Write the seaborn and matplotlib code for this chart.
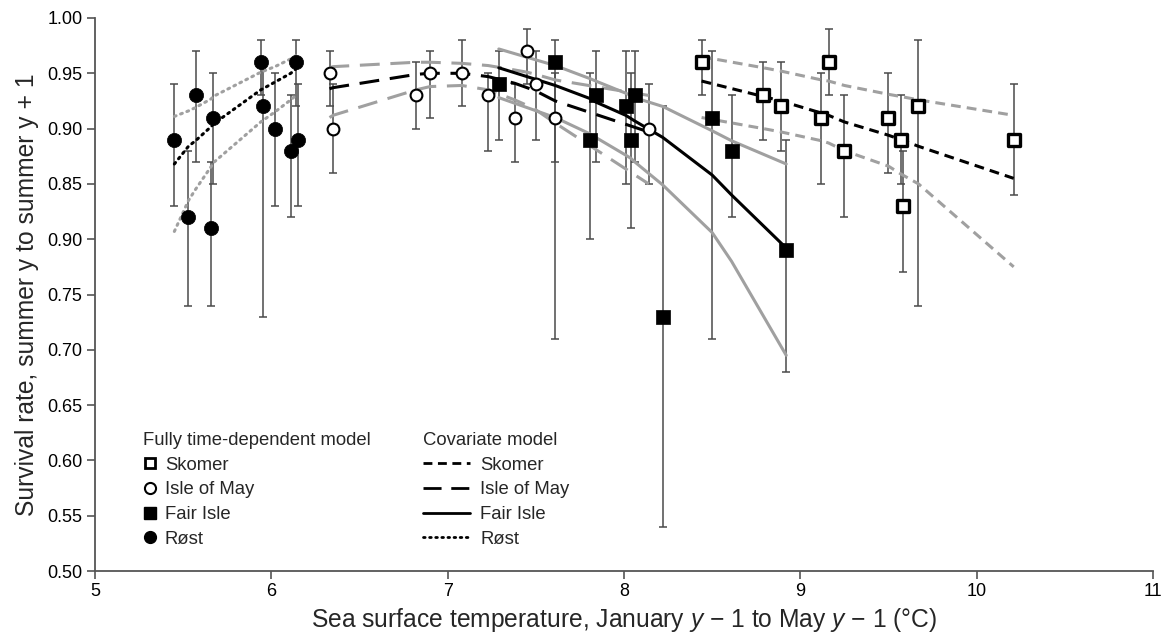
import numpy as np
import pandas as pd
import matplotlib
matplotlib.use("Agg")
import matplotlib.pyplot as plt
from matplotlib.lines import Line2D
import seaborn as sns

# ---------------- data ----------------
# Skomer (open squares)
sk_x  = [8.44, 8.79, 8.89, 9.12, 9.16, 9.25, 9.50, 9.57, 9.58, 9.67, 10.21]
sk_y  = [0.96, 0.93, 0.92, 0.91, 0.96, 0.88, 0.91, 0.89, 0.83, 0.92, 0.89]
sk_hi = [0.98, 0.96, 0.96, 0.95, 0.99, 0.93, 0.95, 0.93, 0.88, 0.98, 0.94]
sk_lo = [0.93, 0.89, 0.88, 0.85, 0.93, 0.82, 0.86, 0.85, 0.77, 0.74, 0.84]
sk_line_x = [8.44, 8.79, 8.89, 9.12, 9.16, 9.25, 9.50, 9.57, 9.67, 10.21]
sk_m   = [0.943, 0.929, 0.925, 0.914, 0.912, 0.906, 0.894, 0.890, 0.884, 0.855]
sk_mhi = [0.965, 0.955, 0.952, 0.944, 0.943, 0.939, 0.931, 0.929, 0.926, 0.912]
sk_mlo = [0.910, 0.900, 0.897, 0.889, 0.887, 0.880, 0.866, 0.859, 0.850, 0.775]

# Isle of May (open circles)
im_x  = [6.33, 6.35, 6.82, 6.90, 7.08, 7.23, 7.38, 7.45, 7.50, 7.61, 8.14]
im_y  = [0.95, 0.90, 0.93, 0.95, 0.95, 0.93, 0.91, 0.97, 0.94, 0.91, 0.90]
im_hi = [0.97, 0.94, 0.96, 0.97, 0.98, 0.95, 0.94, 0.99, 0.97, 0.95, 0.94]
im_lo = [0.92, 0.86, 0.90, 0.91, 0.92, 0.88, 0.87, 0.94, 0.89, 0.87, 0.85]
im_line_x = [6.33, 6.35, 6.82, 6.90, 7.08, 7.23, 7.38, 7.45, 7.50, 7.61, 8.14]
im_m   = [0.936, 0.937, 0.949, 0.950, 0.950, 0.947, 0.941, 0.937, 0.934, 0.925, 0.897]
im_mhi = [0.955, 0.956, 0.960, 0.960, 0.959, 0.957, 0.953, 0.951, 0.949, 0.944, 0.930]
im_mlo = [0.910, 0.912, 0.935, 0.938, 0.939, 0.935, 0.926, 0.921, 0.917, 0.905, 0.850]

# Fair Isle (filled squares)
fi_x  = [7.29, 7.61, 7.81, 7.84, 8.01, 8.04, 8.06, 8.22, 8.50, 8.61, 8.92]
fi_y  = [0.94, 0.96, 0.89, 0.93, 0.92, 0.89, 0.93, 0.73, 0.91, 0.88, 0.79]
fi_hi = [0.97, 0.98, 0.95, 0.97, 0.97, 0.95, 0.97, 0.92, 0.97, 0.93, 0.89]
fi_lo = [0.89, 0.71, 0.80, 0.87, 0.85, 0.81, 0.87, 0.54, 0.71, 0.82, 0.68]
fi_line_x = [7.29, 7.61, 7.81, 7.84, 8.01, 8.04, 8.06, 8.22, 8.50, 8.61, 8.92]
fi_m   = [0.955, 0.939, 0.927, 0.924, 0.912, 0.909, 0.907, 0.892, 0.858, 0.840, 0.792]
fi_mhi = [0.972, 0.957, 0.945, 0.943, 0.932, 0.930, 0.928, 0.920, 0.898, 0.889, 0.868]
fi_mlo = [0.928, 0.910, 0.895, 0.892, 0.876, 0.873, 0.870, 0.849, 0.806, 0.780, 0.695]

# Røst (filled circles)
ro_x  = [5.45, 5.53, 5.57, 5.66, 5.67, 5.94, 5.95, 6.02, 6.11, 6.14, 6.15]
ro_y  = [0.89, 0.82, 0.93, 0.81, 0.91, 0.96, 0.92, 0.90, 0.88, 0.96, 0.89]
ro_hi = [0.94, 0.88, 0.97, 0.87, 0.95, 0.98, 0.96, 0.95, 0.93, 0.98, 0.94]
ro_lo = [0.83, 0.74, 0.87, 0.74, 0.85, 0.93, 0.73, 0.83, 0.82, 0.92, 0.83]
ro_line_x = [5.45, 5.53, 5.57, 5.66, 5.67, 5.94, 6.02, 6.11, 6.14]
ro_m   = [0.868, 0.884, 0.889, 0.902, 0.904, 0.935, 0.942, 0.950, 0.954]
ro_mhi = [0.911, 0.916, 0.919, 0.927, 0.929, 0.951, 0.956, 0.963, 0.966]
ro_mlo = [0.807, 0.835, 0.845, 0.866, 0.869, 0.906, 0.915, 0.926, 0.930]

y_ticks = [0.50, 0.55, 0.60, 0.65, 0.70, 0.75, 0.80, 0.85, 0.90, 0.95, 1.00]
y_tick_labels = ["0.50", "0.55", "0.60", "0.65", "0.70", "0.75", "0.90", "0.85", "0.90", "0.95", "1.00"]
x_ticks = [5, 6, 7, 8, 9, 10, 11]

# ---------------- style ----------------
sns.set_theme(style="ticks")
plt.rcParams["font.family"] = ["Liberation Sans", "DejaVu Sans"]
plt.rcParams["mathtext.fontset"] = "custom"
plt.rcParams["mathtext.rm"] = "Liberation Sans"
plt.rcParams["mathtext.it"] = "Liberation Sans:italic"

AX_COL = "#555555"
EB_COL = "#4a4a4a"
CI_COL = "#a0a0a0"

fig = plt.figure(figsize=(11.65, 6.35), dpi=100)
ax = fig.add_axes([95 / 1165, 1 - 571 / 635, (1153 - 95) / 1165, (571 - 18) / 635])

styles = {
    "sk": (0, (3.2, 2.0)),
    "im": (0, (6.5, 3.5)),
    "fi": "-",
    "ro": (0, (0.6, 1.6)),
}

def model_lines(xs, m, hi, lo, ls):
    for yy, col, lw in [(hi, CI_COL, 2.2), (lo, CI_COL, 2.2), (m, "black", 2.2)]:
        df = pd.DataFrame({"x": xs, "y": yy})
        sns.lineplot(data=df, x="x", y="y", ax=ax, color=col, lw=lw, linestyle=ls,
                     sort=False, estimator=None,
                     dash_capstyle="round" if ls == styles["ro"] else "butt",
                     zorder=3 if col == "black" else 2)

def errbars(xs, ys, lo, hi):
    ys = np.array(ys); lo = np.array(lo); hi = np.array(hi)
    ax.errorbar(xs, ys, yerr=[ys - lo, hi - ys], fmt="none", ecolor=EB_COL,
                elinewidth=1.1, capsize=3, capthick=1.1, zorder=1)

for d in [(sk_x, sk_y, sk_lo, sk_hi), (im_x, im_y, im_lo, im_hi),
          (fi_x, fi_y, fi_lo, fi_hi), (ro_x, ro_y, ro_lo, ro_hi)]:
    errbars(*d)

model_lines(ro_line_x, ro_m, ro_mhi, ro_mlo, styles["ro"])
model_lines(im_line_x, im_m, im_mhi, im_mlo, styles["im"])
model_lines(fi_line_x, fi_m, fi_mhi, fi_mlo, styles["fi"])
model_lines(sk_line_x, sk_m, sk_mhi, sk_mlo, styles["sk"])

sns.scatterplot(x=sk_x, y=sk_y, ax=ax, marker="s", s=76, facecolor="white",
                edgecolor="black", linewidth=2.4, zorder=5)
sns.scatterplot(x=im_x, y=im_y, ax=ax, marker="o", s=72, facecolor="white",
                edgecolor="black", linewidth=1.5, zorder=5)
sns.scatterplot(x=fi_x, y=fi_y, ax=ax, marker="s", s=100, facecolor="black",
                edgecolor="black", linewidth=0.5, zorder=5)
sns.scatterplot(x=ro_x, y=ro_y, ax=ax, marker="o", s=105, facecolor="black",
                edgecolor="black", linewidth=0.5, zorder=5)

ax.set_xlim(5, 11)
ax.set_ylim(0.5, 1.0)
ax.set_xticks(x_ticks)
ax.set_xticklabels([str(t) for t in x_ticks])
ax.set_yticks(y_ticks)
ax.set_yticklabels(y_tick_labels)
ax.tick_params(axis="both", direction="out", length=6, width=1.2, color=AX_COL,
               labelsize=13, labelcolor="black", pad=3)
for side in ["top", "right"]:
    ax.spines[side].set_visible(False)
for side in ["left", "bottom"]:
    ax.spines[side].set_color(AX_COL)
    ax.spines[side].set_linewidth(1.3)

ax.set_xlabel("Sea surface temperature, January $y$ \u2212 1 to May $y$ \u2212 1 (\u00b0C)",
              fontsize=17.7, labelpad=4)
ax.set_ylabel("Survival rate, summer y to summer y + 1", fontsize=17.7, labelpad=6)

# ---------------- legends ----------------
h1 = [
    Line2D([], [], marker="s", ls="none", mfc="white", mec="black", mew=2.0, ms=7.5),
    Line2D([], [], marker="o", ls="none", mfc="white", mec="black", mew=1.5, ms=8),
    Line2D([], [], marker="s", ls="none", mfc="black", mec="black", ms=8),
    Line2D([], [], marker="o", ls="none", mfc="black", mec="black", ms=8.5),
]
labels = ["Skomer", "Isle of May", "Fair Isle", "R\u00f8st"]
leg1 = ax.legend(h1, labels, title="Fully time-dependent model", loc="upper left",
                 bbox_to_anchor=(0.038, 0.265), frameon=False, fontsize=13.3,
                 title_fontsize=13.3, handlelength=0.8, handletextpad=0.4,
                 labelspacing=0.42, borderaxespad=0, alignment="left")
ax.add_artist(leg1)
h2 = [
    Line2D([], [], color="black", lw=2, ls=(0, (3.2, 2.0))),
    Line2D([], [], color="black", lw=2, ls=(0, (6.5, 3.5))),
    Line2D([], [], color="black", lw=2, ls="-"),
    Line2D([], [], color="black", lw=2, ls=(0, (0.6, 1.6)), dash_capstyle="round"),
]
leg2 = ax.legend(h2, labels, title="Covariate model", loc="upper left",
                 bbox_to_anchor=(0.303, 0.265), frameon=False, fontsize=13.3,
                 title_fontsize=13.3, handlelength=2.55, handletextpad=0.55,
                 labelspacing=0.42, borderaxespad=0, alignment="left")

fig.savefig("out.png", dpi=100)
